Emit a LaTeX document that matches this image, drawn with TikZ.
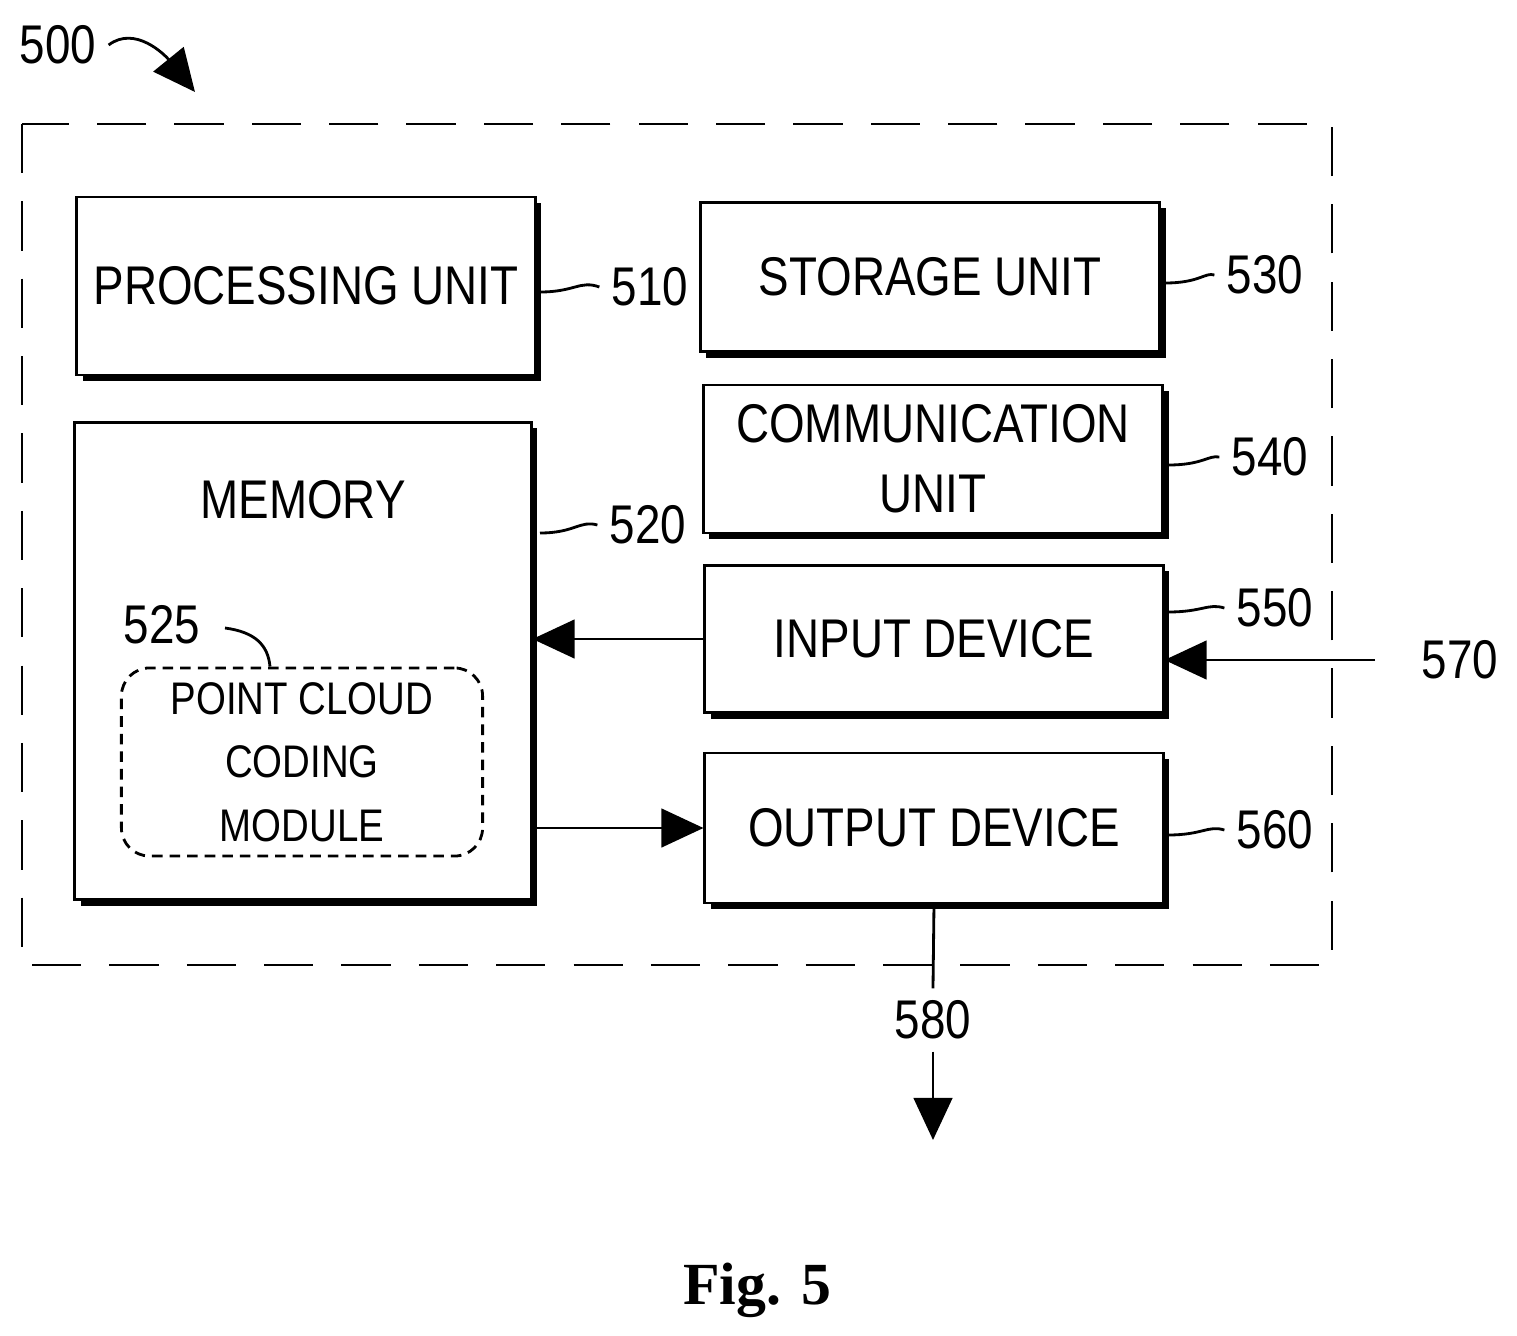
\documentclass[tikz,border=0pt]{standalone}
\usepackage{fontspec}
\setmainfont{Liberation Sans}[FakeStretch=0.84]
\newfontfamily\figfont{Liberation Serif}
\usetikzlibrary{arrows.meta,shadows}
\tikzset{
  unit/.style={draw,thick,fill=white,align=center,inner sep=0pt,font=\fontsize{15.5}{20}\selectfont,
    drop shadow={shadow xshift=.06cm,shadow yshift=-.06cm,fill=black,opacity=1}},
  refnum/.style={font=\fontsize{15.5}{19}\selectfont},
  leader/.style={thick},
  flow/.style={thick,-{Triangle[length=12pt,width=11pt]}}
}
\begin{document}
\begin{tikzpicture}[x=0.01cm,y=-0.01cm]
  \useasboundingbox (0,0) rectangle (1517,1336);
  % frame
  \draw[thick,dash pattern=on 14pt off 8pt] (22,124) rectangle (1332,965);

  % units
  \node[unit,minimum width=4.58cm,minimum height=1.78cm] (proc) at (306,286) {PROCESSING UNIT};
  \node[unit,minimum width=4.59cm,minimum height=1.49cm] (stor) at (930,277) {STORAGE UNIT};
  \node[unit,minimum width=4.59cm,minimum height=1.48cm] (comm) at (933,459) {COMMUNICATION\\UNIT};
  \node[unit,minimum width=4.58cm,minimum height=1.47cm] (inp) at (934,639) {INPUT DEVICE};
  \node[unit,minimum width=4.58cm,minimum height=1.50cm] (outp) at (934,828) {OUTPUT DEVICE};
  \node[unit,minimum width=4.56cm,minimum height=4.77cm] (mem) at (303,661) {};
  \node[font=\fontsize{15.5}{19}\selectfont] (memtxt) at (303,500) {MEMORY};
  \node[draw,thick,densely dashed,rounded corners=8pt,minimum width=3.61cm,minimum height=1.88cm,
    align=center,font=\fontsize{13}{16}\selectfont] (pcc) at (302,762)
    {POINT CLOUD\\[2pt]CODING\\[2pt]MODULE};

  % reference numerals
  \node[refnum] (n500) at (58,45) {500};
  \node[refnum] (n510) at (650,287) {510};
  \node[refnum] (n520) at (648,525) {520};
  \node[refnum] (n525) at (162,625) {525};
  \node[refnum] (n530) at (1265,275) {530};
  \node[refnum] (n540) at (1270,457) {540};
  \node[refnum] (n550) at (1275,608) {550};
  \node[refnum] (n560) at (1275,830) {560};
  \node[refnum] (n570) at (1460,660) {570};
  \node[refnum] (n580) at (933,1020) {580};
  \coordinate (c570) at (1375,660);
  \coordinate (c580) at (933,1140);

  % leaders
  \draw[leader] (540,292) .. controls (575,292) and (580,280) .. (n510.west);
  \draw[leader] (540,533) .. controls (575,533) and (580,520) .. (n520.west);
  \draw[leader] (1165,283) .. controls (1200,283) and (1205,272) .. (n530.west);
  \draw[leader] (1168,465) .. controls (1203,465) and (1208,455) .. (n540.west);
  \draw[leader] (1168,612) .. controls (1203,612) and (1208,603) .. (n550.west);
  \draw[leader] (1168,835) .. controls (1203,835) and (1208,825) .. (n560.west);
  \draw[leader] (225,628) .. controls (255,632) and (268,645) .. (pcc.north -| 270,0);
  \draw[flow] (n500.east) .. controls (135,25) and (165,55) .. (195,92);

  % data flow
  \draw[flow] (inp.west) -- (mem.east |- inp.west);
  \draw[flow] (mem.east |- outp.west) -- (outp.west);
  \draw[flow] (c570) -- (inp.east |- c570);
  \draw[thick] (outp.south) -- (n580.north);
  \draw[flow] (n580.south) -- (c580);

  \node[font=\figfont\bfseries\fontsize{17}{20}\selectfont] (fig) at (757,1290) {Fig. 5};
\end{tikzpicture}
\end{document}
